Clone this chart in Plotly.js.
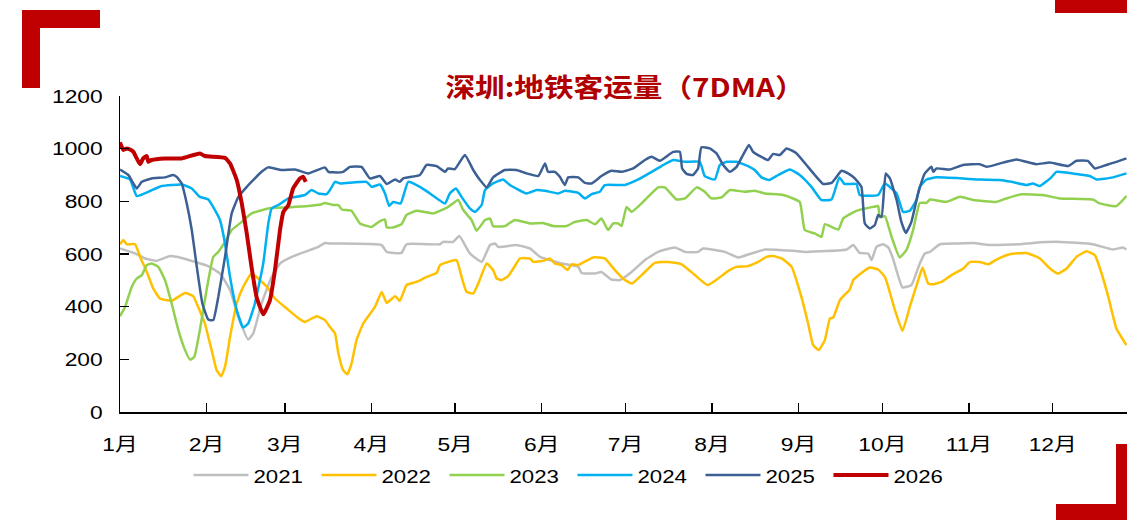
<!DOCTYPE html>
<html>
<head>
<meta charset="utf-8">
<script src="https://cdn.plot.ly/plotly-3.0.1.min.js"></script>
<style>
  html, body { margin: 0; padding: 0; background: #fff; }
  #wrap { position: relative; width: 1127px; height: 520px; overflow: hidden; }
  #chart { width: 1127px; height: 520px; }
  .deco { position: absolute; background: #C00000; }
</style>
</head>
<body>
<div id="wrap">
  <div id="chart"></div>
  <div class="deco" style="left:22px;top:10px;width:78px;height:18px;"></div>
  <div class="deco" style="left:22px;top:10px;width:18px;height:78px;"></div>
  <div class="deco" style="left:1055px;top:0px;width:72px;height:13px;"></div>
  <div class="deco" style="left:1116px;top:444px;width:11px;height:76px;"></div>
  <div class="deco" style="left:1056px;top:504px;width:71px;height:16px;"></div>
</div>
<script>
// Day-of-year positions (0 = 1 Jan) and values (7DMA, 万人次)
const monthDays = [0, 31, 59, 90, 120, 151, 181, 212, 243, 273, 304, 334];
const monthLabels = ['1月','2月','3月','4月','5月','6月','7月','8月','9月','10月','11月','12月'];
const seriesNames = ['2021','2022','2023','2024','2025','2026'];

const days2021 = [0,5.4,9.0,13.1,17.9,22.1,26.9,31.6,35.8,39.4,42.4,45.9,47.7,50.7,54.3,57.3,61.5,66.2,71.0,73.4,75.2,93.7,95.5,100.8,102.6,114.6,115.7,119.3,121.5,125.3,129.5,132.5,134.3,135.4,142.0,146.8,150.4,153.9,158.1,164.1,165.3,170.1,172.4,176.0,179.0,183.2,188.0,192.7,198.7,202.3,207.0,208.8,216.6,221.3,226.1,230.9,241.0,245.8,260.2,262.6,264.9,267.9,269.1,270.9,273.3,275.1,276.8,280.2,283.4,286.4,288.2,290.0,293.6,300.7,305.5,311.5,322.2,327.0,336.5,348.4,355.6,359.2,360.4];
const vals2021 = [621,602,583,574,592,585,570,554,526,463,361,275,298,412,513,564,589,608,627,642,640,634,608,604,637,637,646,646,668,602,570,634,640,627,634,621,589,577,564,551,528,526,532,503,501,532,577,608,625,608,608,621,608,587,602,617,612,608,617,634,604,602,577,627,637,625,583,473,482,564,602,608,637,640,642,634,637,642,646,637,617,625,617];

const days2022 = [0,1.2,2.4,5.4,7.2,9.6,11.9,14.3,18.5,23.3,26.2,28.0,30.4,32.8,34.6,36.2,37.6,39.4,41.8,44.1,47.1,49.5,53.1,55.5,59.7,63.3,66.2,70.4,73.4,75.2,77.0,78.2,79.9,81.4,82.9,84.7,87.1,91.3,93.7,95.5,98.5,100.2,102.6,106.2,109.8,113.4,114.6,120.5,122.3,124.1,126.5,128.3,131.3,133.6,134.9,136.6,139.0,141.4,143.2,146.8,148.0,151.5,153.9,155.7,158.1,160.3,161.7,164.1,169.4,173.6,177.2,180.8,183.4,186.8,191.5,196.3,201.1,205.9,210.4,214.2,217.8,220.8,224.9,228.5,231.5,233.9,236.9,240.5,244.0,246.4,248.2,250.2,252.4,254.2,255.4,257.8,261.3,262.6,265.5,268.5,271.5,273.9,275.1,277.5,280.2,282.8,286.2,287.4,289.4,291.2,294.2,297.8,302.0,304.4,307.9,310.9,313.9,318.6,324.6,329.4,333.0,335.9,339.0,342.5,346.1,349.1,351.5,353.9,356.8,360.4];
const vals2022 = [637,653,637,637,589,532,469,431,422,452,440,399,336,235,159,136,171,285,412,475,526,507,469,431,393,361,342,364,349,323,298,222,159,143,184,273,336,399,456,414,440,422,482,494,513,528,558,577,513,456,450,488,564,539,507,501,516,554,583,583,570,574,583,564,558,539,561,558,587,583,539,501,488,520,566,570,561,520,482,507,536,551,554,570,589,592,583,551,437,336,254,235,273,355,359,425,465,501,528,549,541,513,475,387,308,399,513,549,488,485,494,520,545,570,570,561,579,599,604,583,545,526,545,589,610,596,526,437,317,254];

const days2023 = [0,1.8,4.2,6.0,7.8,9.6,11.3,13.7,16.1,18.5,20.9,23.3,25.1,26.6,28.6,31.0,33.4,35.2,37.6,40.0,43.6,47.1,53.1,60.3,67.4,72.2,73.4,76.4,78.2,79.4,82.9,85.9,90.1,93.1,94.9,95.5,97.8,100.8,102.6,106.2,112.2,117.5,121.1,122.9,125.9,127.7,130.7,132.5,133.6,137.8,141.4,146.8,151.5,155.1,159.9,162.9,167.1,170.1,172.4,174.8,176.6,178.4,179.6,181.4,183.2,188.0,192.7,195.1,199.3,202.3,206.5,209.4,211.8,215.4,218.4,223.8,227.3,230.9,237.5,243.4,245.2,248.8,251.2,252.4,257.2,259.0,263.7,269.7,271.5,272.1,273.9,276.3,279.2,281.6,284.0,286.4,288.8,290.0,296.0,300.7,305.5,313.9,317.4,322.8,330.5,336.5,348.4,350.8,356.8,360.4];
const vals2023 = [364,399,475,507,520,558,564,551,501,412,311,235,199,209,311,463,589,608,646,691,722,754,773,777,782,789,794,786,786,769,764,716,703,725,731,701,701,713,748,764,754,779,805,767,729,688,729,735,706,706,729,716,718,706,706,722,729,713,735,691,716,716,706,779,760,805,853,853,807,811,853,836,811,815,843,836,840,830,824,798,691,678,665,713,693,735,764,779,782,739,744,665,587,615,691,794,794,807,798,817,805,798,811,827,824,811,807,792,782,820];

const days2024 = [0,3.6,6.0,10.1,14.9,22.1,25.7,28.6,31.6,34.0,35.8,37.6,39.4,41.8,44.1,45.9,48.3,51.3,53.1,54.3,56.7,60.3,66.2,68.6,71.0,74.0,75.2,77.0,78.8,88.3,90.1,93.1,94.9,96.4,97.8,100.5,103.2,107.4,111.0,116.4,118.1,120.3,122.3,125.3,127.1,129.5,130.7,133.6,137.2,139.6,145.6,149.2,152.2,156.9,159.3,164.1,166.5,168.9,171.8,173.6,180.8,185.6,190.4,193.9,198.1,202.3,207.6,209.4,213.0,214.8,217.2,220.8,224.9,227.3,229.7,232.5,235.7,239.9,243.4,247.6,251.2,254.8,257.6,259.4,263.7,264.9,271.5,273.9,278.1,280.4,282.8,285.2,286.4,288.8,292.4,307.9,315.0,319.2,324.6,326.9,329.4,333.5,335.3,342.5,347.3,349.7,355.6,360.4];
const vals2024 = [896,883,820,836,858,864,849,817,807,767,729,640,513,387,321,336,412,564,716,773,786,811,824,843,830,827,843,874,868,874,855,864,830,782,798,792,874,855,830,792,830,849,817,773,760,786,843,868,883,862,830,843,840,830,840,832,811,827,836,862,862,883,912,934,957,950,950,896,883,938,950,950,934,919,891,881,900,921,900,855,805,807,891,866,866,824,824,868,830,760,764,805,855,883,891,883,881,874,862,868,858,891,912,904,896,883,891,906];

const days2025 = [0,3.0,6.0,7.8,11.3,16.1,19.1,20.3,22.1,23.9,25.7,27.5,29.5,31.6,33.4,35.2,37.6,40.0,42.4,45.4,48.3,50.7,53.1,57.9,62.7,67.4,73.4,74.6,76.4,79.9,82.3,86.5,89.5,93.1,95.5,98.5,100.2,101.4,107.4,109.8,113.4,116.4,117.5,119.9,123.5,126.5,128.9,131.3,133.6,137.8,142.0,145.6,149.8,152.2,153.3,155.7,157.5,159.3,160.5,164.1,166.5,168.9,172.4,176.0,179.6,183.8,188.0,190.4,193.3,198.1,200.5,201.3,202.9,205.2,207.0,208.2,211.2,213.6,216.0,218.4,220.8,223.1,225.2,226.7,229.1,232.1,233.9,236.3,238.7,242.3,245.8,248.8,251.8,254.8,258.4,260.7,263.1,265.5,266.7,268.5,270.3,271.5,272.7,274.2,275.7,278.1,279.8,281.4,283.4,285.8,288.2,290.6,291.2,292.4,297.1,301.9,307.9,310.3,316.2,321.0,328.2,332.9,339.5,342.5,346.6,349.1,353.2,356.8,360.4];
const vals2025 = [921,900,849,874,887,891,900,893,868,792,691,551,412,351,349,437,589,754,817,855,887,912,929,919,921,906,929,912,910,912,931,931,887,896,866,883,874,887,900,938,934,912,925,922,976,919,881,853,891,919,919,906,896,944,912,912,893,862,891,891,870,868,896,916,912,925,957,969,954,988,988,925,904,900,925,1005,1001,982,938,912,931,976,1014,988,972,957,980,976,1001,982,938,900,866,870,916,906,887,855,716,697,710,748,741,906,887,805,722,680,722,830,906,931,912,925,921,938,941,931,947,959,941,947,934,954,954,925,938,950,963];

const days2026 = [0,1.2,2.4,3.6,4.8,6.0,7.2,8.3,9.6,10.1,11.3,16.1,22.1,28.6,30.4,37.6,39.4,41.8,43.6,45.4,47.1,48.9,51.3,53.7,55.5,57.3,58.5,60.3,62.0,64.4,65.6,66.5];
const vals2026 = [1024,995,1001,997,988,963,941,963,972,950,957,963,963,982,972,965,944,881,792,678,551,437,371,425,539,691,760,786,849,887,893,874];

const allDays = [days2021, days2022, days2023, days2024, days2025, days2026];
const allVals = [vals2021, vals2022, vals2023, vals2024, vals2025, vals2026];
const colors = ['#BFBFBF', '#FFC000', '#92D050', '#00B0F0', '#3C5F94', '#C00000'];
const widths = [2.5, 2.5, 2.5, 2.5, 2.5, 4];

const traces = seriesNames.map((name, i) => ({
  type: 'scatter',
  mode: 'lines',
  name: name,
  x: allDays[i],
  y: allVals[i],
  line: { color: colors[i], width: widths[i], shape: 'spline', smoothing: 0.4 },
  hoverinfo: 'skip'
}));

const font = 'Liberation Sans, Arial, Noto Sans CJK SC, sans-serif';

const layout = {
  width: 1127,
  height: 520,
  margin: { l: 120, r: 0, t: 96, b: 108, pad: 0 },
  paper_bgcolor: '#ffffff',
  plot_bgcolor: '#ffffff',
  showlegend: true,
  font: { family: font, size: 19, color: '#000000' },
  title: {
    text: '深圳:地铁客运量（7DMA）',
    font: { family: 'Noto Sans CJK SC, sans-serif', size: 26, color: '#B00000', weight: 'bold' },
    xref: 'paper', x: 0.5015, xanchor: 'center',
    yref: 'container', y: 1 - 88 / 520, yanchor: 'middle'
  },
  xaxis: {
    range: [0, 360.6],
    tickmode: 'array',
    tickvals: monthDays,
    ticktext: monthLabels,
    ticks: 'inside',
    ticklen: 9,
    tickwidth: 1.5,
    tickcolor: '#000000',
    showline: true,
    linecolor: '#000000',
    linewidth: 2,
    showgrid: false,
    zeroline: false,
    ticklabelstandoff: 14,
    tickfont: { family: font, size: 19, color: '#000000' },
    fixedrange: true
  },
  yaxis: {
    range: [0, 1200],
    tickmode: 'array',
    tickvals: [0, 200, 400, 600, 800, 1000, 1200],
    ticks: 'inside',
    ticklen: 9,
    tickwidth: 1.5,
    tickcolor: '#000000',
    showline: true,
    linecolor: '#000000',
    linewidth: 1.5,
    showgrid: false,
    zeroline: false,
    ticklabelstandoff: 12,
    tickfont: { family: font, size: 19, color: '#000000' },
    fixedrange: true
  },
  legend: {
    orientation: 'h',
    x: 0.068, xanchor: 'left',
    y: -0.14, yanchor: 'top',
    font: { family: font, size: 19, color: '#000000' },
    entrywidth: 58,
    entrywidthmode: 'pixels',
    itemwidth: 55,
    bgcolor: 'rgba(0,0,0,0)',
    traceorder: 'normal'
  }
};

// The reference's text is rendered horizontally widened; reproduce that stretch.
function stretchText(root, selector, s) {
  root.querySelectorAll(selector).forEach(t => {
    const bb = t.getBBox();
    const anchor = t.getAttribute('text-anchor') || 'start';
    let ax = bb.x;
    if (anchor === 'middle') ax = bb.x + bb.width / 2;
    else if (anchor === 'end') ax = bb.x + bb.width;
    const cur = t.getAttribute('transform') || '';
    t.setAttribute('transform', (cur + ' translate(' + ax + ',0) scale(' + s + ',1) translate(' + (-ax) + ',0)').trim());
  });
}

Plotly.newPlot('chart', traces, layout, { staticPlot: true, displayModeBar: false }).then(gd => {
  stretchText(gd, '.xtick text', 1.2);
  stretchText(gd, '.ytick text', 1.2);
  stretchText(gd, '.legendtext', 1.17);
  stretchText(gd, '.gtitle', 1.14);
});
</script>
</body>
</html>
